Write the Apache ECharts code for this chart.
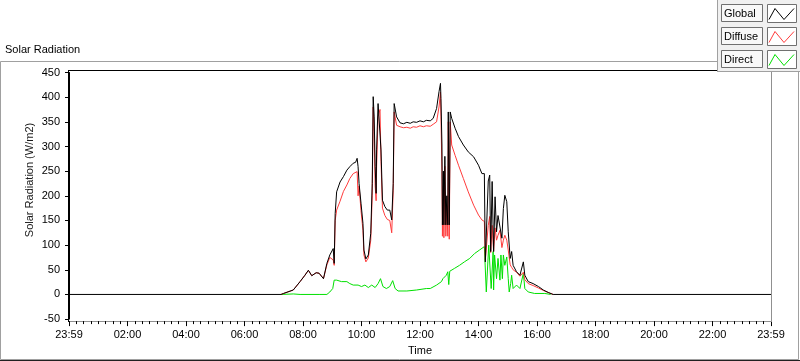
<!DOCTYPE html>
<html>
<head>
<meta charset="utf-8">
<script src="https://cdn.jsdelivr.net/npm/echarts@6/dist/echarts.min.js"></script>
<style>
  html, body { margin: 0; padding: 0; background: #fff; }
  #main { width: 800px; height: 361px; }
</style>
</head>
<body>
<div id="main"></div>
<script>
// time = minutes after midnight, value = W/m2
var seriesNames = ['Global', 'Diffuse', 'Direct'];
var seriesColors = ['#000000', '#ff3b3b', '#00e000'];
var xTickLabels = ['23:59', '02:00', '04:00', '06:00', '08:00', '10:00', '12:00',
  '14:00', '16:00', '18:00', '20:00', '22:00', '23:59'];

var globalData = [[0,0],[435,0],[440,2],[460,9],[474,26],[484,39],[491,49],[498,38],[507,44],
  [513,43],[522,32],[529,63],[535,80],[542,93],[544,63],[546,164],[549,208],[556,228],[563,239],
  [570,252],[576,259],[583,266],[588,268],[591,276],[593,259],[595,225],[599,185],[603,144],
  [605,90],[609,72],[614,80],[619,124],[622,225],[624,401],[626,360],[628,260],[630,205],
  [631,293],[634,387],[638,391],[640,293],[643,191],[648,178],[653,171],[658,171],[662,151],
  [665,225],[667,387],[672,360],[679,348],[686,346],[693,349],[700,347],[706,350],[713,349],
  [720,352],[727,350],[733,353],[737,350],[741,352],[747,357],[754,377],[759,411],[762,428],
  [763,397],[765,303],[766,141],[768,250],[769,141],[771,280],[773,141],[775,200],[777,141],
  [778,370],[780,141],[782,370],[785,357],[792,337],[799,320],[809,303],[819,289],[830,279],
  [840,262],[847,245],[852,245],[854,66],[858,70],[860,230],[863,242],[865,87],[868,229],
  [871,87],[874,198],[877,127],[880,160],[884,161],[888,114],[891,174],[894,201],[898,188],
  [901,127],[905,73],[908,87],[911,59],[918,46],[925,39],[932,66],[935,39],[942,26],[952,22],
  [963,16],[973,9],[983,4],[993,0],[1440,0]];

var diffuseData = [[435,0],[440,2],[460,9],[474,26],[484,39],[491,49],[498,38],[507,44],[513,43],
  [522,32],[529,60],[535,75],[542,70],[544,59],[546,150],[549,171],[556,189],[563,209],[570,222],
  [576,235],[583,245],[591,249],[593,200],[595,220],[599,170],[603,130],[605,80],[609,66],
  [614,74],[619,110],[622,200],[624,380],[626,330],[628,220],[630,190],[631,260],[634,360],
  [638,375],[640,270],[643,175],[648,160],[653,152],[658,150],[662,125],[665,210],[667,370],
  [672,343],[679,340],[686,338],[693,339],[700,337],[706,340],[713,339],[720,342],[727,340],
  [733,342],[737,340],[741,341],[747,345],[754,350],[759,380],[762,410],[763,360],[765,250],
  [766,118],[768,220],[769,115],[771,260],[773,118],[775,180],[777,118],[778,350],[780,112],
  [782,350],[785,303],[792,282],[799,262],[809,235],[819,208],[830,181],[840,161],[847,151],
  [852,148],[854,70],[858,66],[860,140],[863,158],[865,85],[868,140],[871,87],[874,135],
  [877,110],[880,120],[884,130],[888,95],[891,110],[894,120],[898,110],[901,90],[905,60],
  [908,55],[911,50],[918,45],[925,37],[932,45],[935,30],[942,22],[952,18],[963,13],[973,8],
  [983,4],[993,0]];

var directData = [[435,0],[460,1],[474,0],[513,0],[529,0],[535,5],[541,12],[544,29],[549,29],
  [559,26],[570,26],[576,22],[583,19],[593,19],[600,16],[607,19],[614,14],[621,19],[628,14],
  [634,22],[639,32],[644,16],[651,12],[658,16],[664,28],[669,12],[675,7],[693,7],[713,9],
  [733,12],[741,12],[754,19],[764,26],[767,32],[774,39],[777,46],[779,20],[781,47],[784,49],
  [791,53],[801,59],[811,66],[822,73],[832,83],[842,90],[852,97],[854,100],[856,5],[860,5],
  [861,100],[864,100],[866,12],[870,87],[871,9],[873,80],[877,32],[880,73],[884,29],[886,80],
  [889,32],[891,80],[894,59],[898,76],[901,32],[903,5],[906,22],[908,39],[911,12],[918,19],
  [925,12],[932,43],[935,12],[942,5],[955,2],[976,2],[988,0]];

var seriesData = [globalData, diffuseData, directData];
var font = 'Liberation Sans';

var myChart = echarts.init(document.getElementById('main'));

// frame + legend drawn by hand, LabVIEW style
var graphics = [
  { type: 'rect', shape: { x: 0.5, y: 61.5, width: 798, height: 298 }, style: { fill: null, stroke: '#a0a0a0', lineWidth: 1 }, z: 1 },
  { type: 'line', shape: { x1: 0, y1: 360.5, x2: 800, y2: 360.5 }, style: { stroke: '#202020', lineWidth: 1 }, z: 1 },
  { type: 'line', shape: { x1: 68, y1: 70.5, x2: 772, y2: 70.5 }, style: { stroke: '#000', lineWidth: 1 }, z: 5 },
  { type: 'line', shape: { x1: 68.5, y1: 70, x2: 68.5, y2: 322 }, style: { stroke: '#000', lineWidth: 1 }, z: 5 },
  { type: 'line', shape: { x1: 771.5, y1: 70, x2: 771.5, y2: 322 }, style: { stroke: '#909090', lineWidth: 1 }, z: 5 },
  { type: 'text', left: 5, top: 44, style: { text: 'Solar Radiation', font: '11px ' + font, fill: '#000' } },
  { type: 'text', x: 30, y: 180, rotation: Math.PI / 2,
    style: { text: 'Solar Radiation (W/m2)', font: '11px ' + font, fill: '#1a1a1a', align: 'center', verticalAlign: 'middle' } },
  { type: 'rect', shape: { x: 717, y: 0, width: 83, height: 72 }, style: { fill: '#f0f0f0', stroke: null }, z: 10 },
  { type: 'line', shape: { x1: 717.5, y1: 0, x2: 717.5, y2: 72 }, style: { stroke: '#a0a0a0' }, z: 11 },
  { type: 'line', shape: { x1: 717, y1: 71.5, x2: 800, y2: 71.5 }, style: { stroke: '#a0a0a0' }, z: 11 }
];
seriesNames.forEach(function (name, i) {
  var y0 = 4.5 + i * 23;
  graphics.push(
    { type: 'rect', shape: { x: 721.5, y: y0, width: 41, height: 17 }, style: { fill: '#f8f8f8', stroke: '#707070' }, z: 11 },
    { type: 'text', x: 724, y: y0 + 9, style: { text: name, font: '11px ' + font, fill: '#000', verticalAlign: 'middle' }, z: 12 },
    { type: 'rect', shape: { x: 767.5, y: y0, width: 29, height: 18 }, style: { fill: '#fff', stroke: '#707070' }, z: 11 },
    { type: 'polyline', shape: { points: [[769, y0 + 15], [775, y0 + 4], [784, y0 + 15], [794, y0 + 4]] },
      style: { stroke: seriesColors[i], lineWidth: 1, fill: null }, z: 12 }
  );
});

myChart.setOption({
  animation: false,
  backgroundColor: '#fff',
  textStyle: { fontFamily: font },
  grid: { left: 69, right: 29, top: 72.5, bottom: 41.5 },
  xAxis: {
    type: 'value',
    min: 0,
    max: 1440,
    interval: 120,
    offset: 2,
    name: 'Time',
    nameLocation: 'middle',
    nameGap: 22,
    nameTextStyle: { fontSize: 11, color: '#000' },
    axisLine: { show: true, onZero: false, lineStyle: { color: '#909090', width: 1 } },
    axisTick: { show: true, length: 5, lineStyle: { color: '#000' } },
    minorTick: { show: true, splitNumber: 8, length: 3, lineStyle: { color: '#000' } },
    axisLabel: {
      fontSize: 11, color: '#000', margin: 8,
      formatter: function (v) { return xTickLabels[Math.round(v / 120)]; }
    },
    splitLine: { show: false }
  },
  yAxis: {
    type: 'value',
    min: -50,
    max: 450,
    interval: 50,
    axisLine: { show: true, onZero: false, lineStyle: { color: '#000', width: 1 } },
    axisTick: { show: true, length: 4, lineStyle: { color: '#000' } },
    axisLabel: { fontSize: 11, color: '#000', margin: 9 },
    splitLine: { show: false }
  },
  graphic: graphics,
  series: [2, 1, 0].map(function (i) {
    return {
      name: seriesNames[i],
      type: 'line',
      data: seriesData[i],
      showSymbol: false,
      symbol: 'none',
      z: 3 - i,
      lineStyle: { color: seriesColors[i], width: 1 }
    };
  })
});
</script>
</body>
</html>
